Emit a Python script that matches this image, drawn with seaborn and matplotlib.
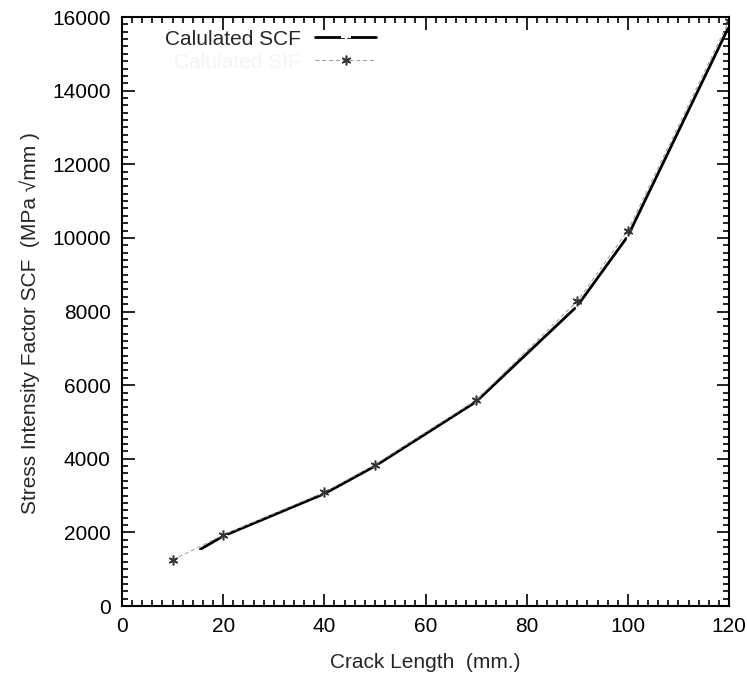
import matplotlib
matplotlib.use("Agg")
import matplotlib.pyplot as plt
from matplotlib.ticker import MultipleLocator
import seaborn as sns
import pandas as pd

# Calculated stress intensity factor along the crack
calc_length = [15, 20, 40, 50, 70, 90, 100, 120]
calc_scf = [1500, 1900, 3050, 3800, 5550, 8150, 10050, 15750]

# Reference values (faint dashed series with star markers)
ref_length = [10, 20, 40, 50, 70, 90, 100, 120]
ref_scf = [1250, 1930, 3090, 3840, 5590, 8280, 10200, 15900]

x_ticks = [0, 20, 40, 60, 80, 100, 120]
y_ticks = [0, 2000, 4000, 6000, 8000, 10000, 12000, 14000, 16000]

sns.set_style("ticks")
plt.rcParams["font.family"] = ["Liberation Sans", "DejaVu Sans"]

calc_df = pd.DataFrame({"length": calc_length, "scf": calc_scf})
ref_df = pd.DataFrame({"length": ref_length, "scf": ref_scf})

FS = 15

fig = plt.figure(figsize=(7.47, 6.75), dpi=100)
ax = fig.add_axes([0.1633, 0.1022, 0.8127, 0.8726])

sns.lineplot(data=calc_df, x="length", y="scf", ax=ax, color="black",
             linewidth=2.0, marker="+", markersize=7, markeredgewidth=1.6,
             label="Calulated SCF")
sns.lineplot(data=ref_df, x="length", y="scf", ax=ax, color="#9a9a9a",
             linewidth=0.7, linestyle=(0, (4, 3)), marker=(6, 2, 0),
             markersize=7, markeredgewidth=1.1, markeredgecolor="#333333",
             label="Calulated SIF")

ax.set_xlim(0, 120)
ax.set_ylim(0, 16000)
ax.set_xticks(x_ticks)
ax.set_yticks(y_ticks)
ax.xaxis.set_minor_locator(MultipleLocator(2))
ax.yaxis.set_minor_locator(MultipleLocator(200))
ax.tick_params(which="both", direction="in", top=True, right=True,
               colors="black", labelsize=FS)
ax.tick_params(which="major", length=9, width=1.2, pad=8)
ax.tick_params(which="minor", length=4, width=1.2)
for s in ax.spines.values():
    s.set_linewidth(1.5)
    s.set_color("black")

ax.set_xlabel("Crack Length  (mm.)", fontsize=FS, labelpad=12)
ax.set_ylabel("Stress Intensity Factor SCF  (MPa \u221Amm )", fontsize=FS)
ax.yaxis.set_label_coords(-0.135, 0.48)

leg = ax.legend(loc="upper left", bbox_to_anchor=(0.05, 1.0), frameon=False,
                markerfirst=False, fontsize=FS, handlelength=2.9,
                handletextpad=0.7, borderaxespad=0.2, labelspacing=0.2)
texts = leg.get_texts()
texts[1].set_color("#f4f4f4")

fig.savefig("out.png", dpi=100, facecolor="white")
